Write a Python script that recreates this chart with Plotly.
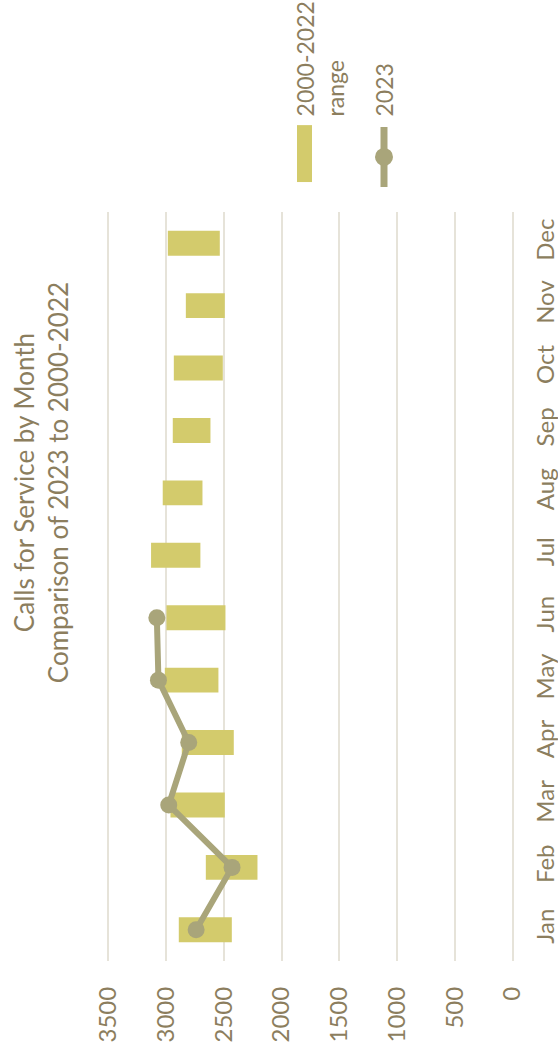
import plotly.graph_objects as go

months = ["Jan", "Feb", "Mar", "Apr", "May", "Jun", "Jul", "Aug", "Sep", "Oct", "Nov", "Dec"]
range_low = [2431, 2209, 2492, 2414, 2547, 2486, 2703, 2685, 2616, 2509, 2492, 2535]
range_high = [2890, 2656, 2962, 2864, 3011, 2997, 3130, 3029, 2942, 2933, 2829, 2985]
months_2023 = ["Jan", "Feb", "Mar", "Apr", "May", "Jun"]
calls_2023 = [2740, 2429, 2977, 2804, 3066, 3080]
value_ticks = [0, 500, 1000, 1500, 2000, 2500, 3000, 3500]

BAR = "#D3CB6C"
LINE = "#A9A57A"
TEXT = "#8C7E5E"
GRID = "#E6E3D9"
FONT = "Lato"

fig = go.Figure()
fig.add_trace(go.Bar(
    y=months, x=[h - l for h, l in zip(range_high, range_low)], base=range_low,
    orientation="h", width=0.4, marker=dict(color=BAR, line=dict(width=0)),
    name="2000-2022 range", showlegend=False,
))
fig.add_trace(go.Scatter(
    y=months_2023, x=calls_2023, mode="lines+markers",
    line=dict(color=LINE, width=6), marker=dict(color=LINE, size=17),
    name="2023", showlegend=False,
))

# plot area spans x 106..515, y 212..961 (page pixels)
fig.update_layout(
    width=558, height=1049,
    margin=dict(l=106, r=43, t=212, b=88),
    paper_bgcolor="white", plot_bgcolor="white",
    font=dict(family=FONT, color=TEXT, size=24),
    xaxis=dict(
        range=[3520, -20], tickvals=value_ticks, ticktext=[str(v) for v in value_ticks],
        tickangle=-90, showgrid=True, gridcolor=GRID, gridwidth=2,
        zeroline=False, showline=False, ticks="", ticklabelstandoff=20,
        automargin=False,
        tickfont=dict(size=24, color=TEXT, family=FONT),
    ),
    yaxis=dict(
        type="category", categoryorder="array", categoryarray=months,
        range=[-0.5, 11.5], side="right", tickangle=-90, showgrid=False,
        zeroline=False, showline=False, ticks="", ticklabelstandoff=14,
        automargin=False,
        tickfont=dict(size=24, color=TEXT, family=FONT),
    ),
)

# Title (rotated)
fig.add_annotation(
    xref="paper", yref="paper", x=-0.157, y=0.639, xanchor="center", yanchor="middle",
    text="Calls for Service by Month<br>Comparison of 2023 to 2000-2022",
    textangle=-90, showarrow=False, font=dict(size=26, color=TEXT, family=FONT),
)

# Legend (rotated, drawn manually)
fig.add_shape(type="rect", xref="paper", yref="paper", x0=0.4670, x1=0.5037, y0=1.040, y1=1.116,
              fillcolor=BAR, line=dict(width=0))
fig.add_annotation(
    xref="paper", yref="paper", x=0.523, y=1.1255, xanchor="center", yanchor="bottom",
    text="2000-2022<br>range", align="left", textangle=-90, showarrow=False,
    font=dict(size=23, color=TEXT, family=FONT),
)
fig.add_shape(type="line", xref="paper", yref="paper", x0=0.6797, x1=0.6797, y0=1.0334, y1=1.1135,
              line=dict(color=LINE, width=7))
fig.add_shape(type="circle", xref="paper", yref="paper", xsizemode="pixel", ysizemode="pixel",
              xanchor=0.6797, yanchor=1.0735, x0=-9, x1=9, y0=-9, y1=9,
              fillcolor=LINE, line=dict(width=0))
fig.add_annotation(
    xref="paper", yref="paper", x=0.6797, y=1.1255, xanchor="center", yanchor="bottom",
    text="2023", textangle=-90, showarrow=False,
    font=dict(size=23, color=TEXT, family=FONT),
)

fig.write_html("out.html", config={"displayModeBar": False},
               post_script="document.body.style.margin='0px';")
